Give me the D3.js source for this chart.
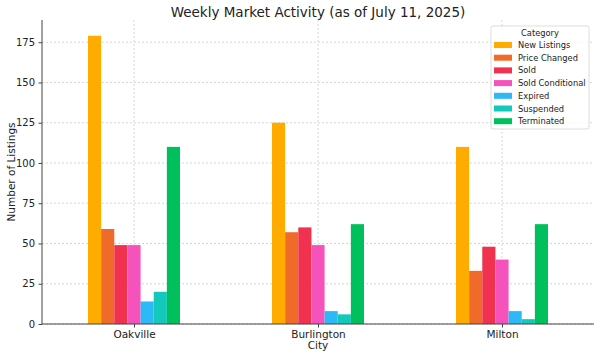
<!DOCTYPE html>
<html><head><meta charset="utf-8">
<script src="https://cdn.jsdelivr.net/npm/d3@7"></script>
<style>body{margin:0;background:#fff}svg{display:block;font-family:"DejaVu Sans",sans-serif}</style>
</head><body><svg id="c" width="600" height="357"></svg>
<script>
const cities = ["Oakville", "Burlington", "Milton"];
const categories = ["New Listings", "Price Changed", "Sold", "Sold Conditional", "Expired", "Suspended", "Terminated"];
const colors = ["#FFAB00", "#F06A2A", "#F0324F", "#F652BC", "#2DB8F6", "#12C9BC", "#00C05E"];
const newListings = [179, 125, 110];
const priceChanged = [59, 57, 33];
const sold = [49, 60, 48];
const soldConditional = [49, 49, 40];
const expired = [14, 8, 8];
const suspended = [20, 6, 3];
const terminated = [110, 62, 62];
const yTicks = [0, 25, 50, 75, 100, 125, 150, 175];
const series = [newListings, priceChanged, sold, soldConditional, expired, suspended, terminated];

const svg = d3.select("#c");
const L = 42, R = 594, T = 20, B = 324;
const x = d3.scaleLinear().domain([-0.5, 2.5]).range([L, R]);
const y = d3.scaleLinear().domain([0, 188.8]).range([B, T]);
const bw = 0.5 / categories.length;

// grid
const g = svg.append("g");
g.selectAll(".gy").data(yTicks).join("line")
  .attr("x1", L).attr("x2", R).attr("y1", d => y(d)).attr("y2", d => y(d))
  .attr("stroke", "#cccccc").attr("stroke-width", 0.8).attr("stroke-dasharray", "2,2");
g.selectAll(".gx").data(cities).join("line")
  .attr("x1", (d, i) => x(i)).attr("x2", (d, i) => x(i)).attr("y1", T).attr("y2", B)
  .attr("stroke", "#cccccc").attr("stroke-width", 0.8).attr("stroke-dasharray", "2,2");

// bars
series.forEach((vals, s) => {
  svg.append("g").selectAll("rect").data(vals).join("rect")
    .attr("x", (d, i) => x(i - 0.25 + s * bw))
    .attr("width", x(bw) - x(0))
    .attr("y", d => y(d))
    .attr("height", d => B - y(d))
    .attr("fill", colors[s]);
});

// axes
const ya = svg.append("g").attr("transform", `translate(${L},0)`)
  .call(d3.axisLeft(y).tickValues(yTicks).tickSize(3.5).tickPadding(3.5));
ya.select(".domain").remove();
ya.selectAll("text").attr("font-size", 10).attr("fill", "#222").attr("font-family", "DejaVu Sans");
ya.selectAll("line").attr("stroke", "#444");
const xa = svg.append("g").attr("transform", `translate(0,${B})`)
  .call(d3.axisBottom(x).tickValues([0, 1, 2]).tickFormat(i => cities[i]).tickSize(3.5).tickPadding(3.5));
xa.select(".domain").remove();
xa.selectAll("text").attr("font-size", 10.5).attr("fill", "#222").attr("font-family", "DejaVu Sans");
xa.selectAll("line").attr("stroke", "#444");
svg.append("line").attr("x1", L).attr("x2", L).attr("y1", T).attr("y2", B).attr("stroke", "#444").attr("stroke-width", 1);
svg.append("line").attr("x1", L).attr("x2", R).attr("y1", B).attr("y2", B).attr("stroke", "#444").attr("stroke-width", 1);

// labels
svg.append("text").attr("x", (L + R) / 2).attr("y", 17).attr("text-anchor", "middle")
  .attr("font-size", 13.5).attr("fill", "#222").text("Weekly Market Activity (as of July 11, 2025)");
svg.append("text").attr("x", (L + R) / 2).attr("y", 349).attr("text-anchor", "middle")
  .attr("font-size", 10.5).attr("fill", "#222").text("City");
svg.append("text").attr("transform", `translate(15,${(T + B) / 2}) rotate(-90)`).attr("text-anchor", "middle")
  .attr("font-size", 10.5).attr("fill", "#222").text("Number of Listings");

// legend
const lg = svg.append("g").attr("transform", "translate(491,26)");
lg.append("rect").attr("width", 98).attr("height", 103).attr("fill", "#fff").attr("fill-opacity", 0.8)
  .attr("stroke", "#dddddd").attr("rx", 2);
lg.append("text").attr("x", 49).attr("y", 10).attr("text-anchor", "middle").attr("font-size", 8.3).attr("fill", "#222").text("Category");
categories.forEach((c, i) => {
  const yy = 19 + i * 12.7;
  lg.append("rect").attr("x", 3).attr("y", yy - 3).attr("width", 18).attr("height", 6).attr("fill", colors[i]);
  lg.append("text").attr("x", 27).attr("y", yy + 3).attr("font-size", 8.3).attr("fill", "#222").text(c);
});
</script></body></html>
